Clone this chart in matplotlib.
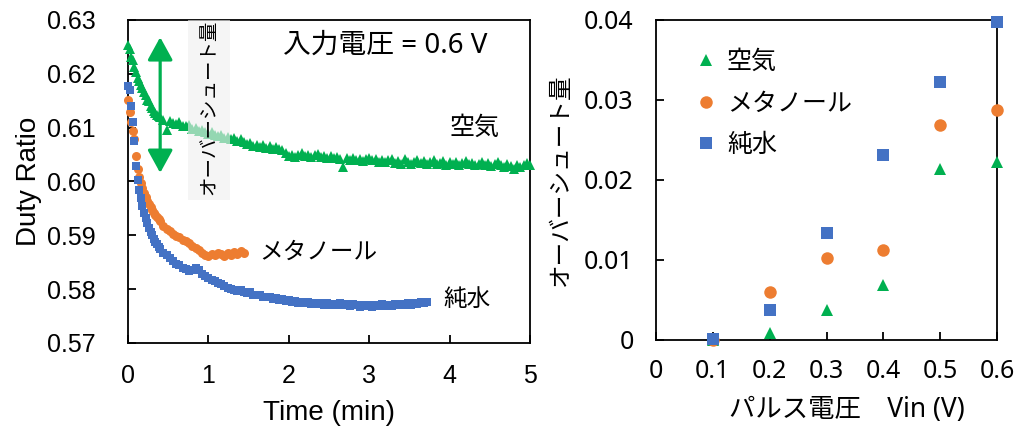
import numpy as np
import matplotlib
matplotlib.use("Agg")
import matplotlib.pyplot as plt
from matplotlib.patches import Rectangle

plt.rcParams['font.family'] = ['Liberation Sans', 'Noto Sans CJK JP']
JP = ['Noto Sans CJK JP', 'DejaVu Sans']
JP_LATIN = ['Noto Sans', 'Noto Sans CJK JP']

GREEN = '#00B050'
ORANGE = '#ED7D31'
BLUE = '#4472C4'

# --- left panel: duty ratio vs time (Vin = 0.6 V) ---
# first 0.4 min sampled every 0.02 min, afterwards every 0.04 min
FINE_STEP = 0.02
COARSE_STEP = 0.04
COARSE_START = 0.40

air_fine = [0.6254, 0.6246, 0.6232, 0.6225, 0.6212, 0.6203, 0.6193, 0.6187, 0.6179, 0.6174,
            0.6166, 0.6160, 0.6152, 0.6149, 0.6141, 0.6137, 0.6131, 0.6128, 0.6124, 0.6122]
air_coarse = [0.6119, 0.6114, 0.6096, 0.6112, 0.6109, 0.6107, 0.6110, 0.6104, 0.6103, 0.6105,
              0.6098, 0.6100, 0.6094, 0.6096, 0.6092, 0.6089, 0.6092, 0.6086, 0.6084, 0.6087,
              0.6081, 0.6083, 0.6078, 0.6080, 0.6076, 0.6078, 0.6073, 0.6070, 0.6072, 0.6066,
              0.6068, 0.6064, 0.6067, 0.6063, 0.6066, 0.6061, 0.6064, 0.6060, 0.6058, 0.6053,
              0.6048, 0.6050, 0.6046, 0.6049, 0.6052, 0.6047, 0.6050, 0.6045, 0.6049, 0.6051,
              0.6046, 0.6048, 0.6044, 0.6047, 0.6043, 0.6046, 0.6042, 0.6026, 0.6044, 0.6040,
              0.6043, 0.6039, 0.6042, 0.6038, 0.6041, 0.6044, 0.6039, 0.6042, 0.6037, 0.6040,
              0.6036, 0.6039, 0.6042, 0.6035, 0.6038, 0.6033, 0.6041, 0.6036, 0.6032, 0.6037,
              0.6040, 0.6034, 0.6038, 0.6033, 0.6036, 0.6039, 0.6032, 0.6035, 0.6038, 0.6031,
              0.6036, 0.6033, 0.6037, 0.6031, 0.6034, 0.6038, 0.6032, 0.6035, 0.6030, 0.6033,
              0.6037, 0.6031, 0.6034, 0.6029, 0.6033, 0.6036, 0.6030, 0.6027, 0.6032, 0.6029,
              0.6024, 0.6030, 0.6027, 0.6031, 0.6035, 0.6030]

methanol_fine = [0.6152, 0.6130, 0.6110, 0.6094, 0.6078, 0.6048, 0.6023, 0.6008, 0.5997, 0.5988,
                 0.5979, 0.5971, 0.5964, 0.5958, 0.5952, 0.5947, 0.5942, 0.5938, 0.5934, 0.5930]
methanol_coarse = [0.5926, 0.5917, 0.5912, 0.5908, 0.5903, 0.5899, 0.5897, 0.5892, 0.5889, 0.5885,
                   0.5880, 0.5877, 0.5872, 0.5868, 0.5864, 0.5862, 0.5866, 0.5863, 0.5868, 0.5865,
                   0.5862, 0.5867, 0.5864, 0.5869, 0.5866, 0.5870, 0.5867]

water_fine = [0.6178, 0.6170, 0.6140, 0.6110, 0.6075, 0.6028, 0.6002, 0.5984, 0.5969, 0.5955,
              0.5942, 0.5932, 0.5922, 0.5914, 0.5907, 0.5901, 0.5894, 0.5888, 0.5884, 0.5878]
water_coarse = [0.5874, 0.5868, 0.5863, 0.5857, 0.5853, 0.5847, 0.5844, 0.5840, 0.5837, 0.5834,
                0.5836, 0.5839, 0.5836, 0.5829, 0.5824, 0.5820, 0.5817, 0.5815, 0.5812, 0.5810,
                0.5806, 0.5803, 0.5800, 0.5799, 0.5797, 0.5798, 0.5795, 0.5793, 0.5794, 0.5790,
                0.5789, 0.5790, 0.5786, 0.5785, 0.5786, 0.5782, 0.5783, 0.5780, 0.5781, 0.5778,
                0.5779, 0.5776, 0.5778, 0.5775, 0.5777, 0.5774, 0.5776, 0.5773, 0.5775, 0.5772,
                0.5775, 0.5771, 0.5774, 0.5770, 0.5773, 0.5771, 0.5774, 0.5770, 0.5772, 0.5769,
                0.5773, 0.5770, 0.5767, 0.5771, 0.5768, 0.5770, 0.5767, 0.5771, 0.5769, 0.5772,
                0.5768, 0.5771, 0.5769, 0.5772, 0.5770, 0.5773, 0.5770, 0.5774, 0.5771, 0.5775,
                0.5773, 0.5776, 0.5774, 0.5777]

# --- right panel: overshoot vs pulse voltage ---
vin = [0.1, 0.2, 0.3, 0.4, 0.5, 0.6]
overshoot_air = [0.0, 0.0009, 0.0038, 0.0069, 0.0214, 0.0223]
overshoot_methanol = [0.0, 0.0060, 0.0102, 0.01125, 0.0269, 0.02875]
overshoot_water = [0.0001, 0.0038, 0.0134, 0.0231, 0.0322, 0.0398]


def series(fine, coarse):
    t = np.concatenate([np.arange(len(fine)) * FINE_STEP,
                        COARSE_START + np.arange(len(coarse)) * COARSE_STEP])
    return t, np.array(fine + coarse)


def style_axes(ax):
    for sp in ax.spines.values():
        sp.set_linewidth(1.3)
    ax.tick_params(direction='in', length=6, width=1.3, labelsize=18)


fig = plt.figure(figsize=(10.2, 4.29), dpi=100)
ax1 = fig.add_axes([0.1255, 0.2005, 0.3941, 0.7529])
ax2 = fig.add_axes([0.6431, 0.2075, 0.3344, 0.7459])

t_air, v_air = series(air_fine, air_coarse)
t_met, v_met = series(methanol_fine, methanol_coarse)
t_wat, v_wat = series(water_fine, water_coarse)

ax1.plot(t_air, v_air, '^', color=GREEN, ms=7, mew=0, clip_on=False, zorder=3)
ax1.plot(t_met, v_met, 'o', color=ORANGE, ms=6.5, mew=0, clip_on=False, zorder=3)
ax1.plot(t_wat, v_wat, 's', color=BLUE, ms=6, mew=0, clip_on=False, zorder=3)

ax1.set_xlim(0, 5)
ax1.set_ylim(0.57, 0.63)
ax1.set_xticks(range(6))
ax1.set_yticks(np.arange(0.57, 0.6301, 0.01))
ax1.yaxis.set_major_formatter(plt.FormatStrFormatter('%.2f'))
style_axes(ax1)
ax1.tick_params(axis='y', pad=23)
ax1.tick_params(axis='x', pad=15)
ax1.set_xlabel('Time (min)', fontsize=20, labelpad=9)
ax1.set_ylabel('Duty Ratio', fontsize=20, labelpad=4)

# overshoot arrow and shaded label box
ax1.annotate('', xy=(0.40, 0.6268), xytext=(0.40, 0.6016),
             arrowprops=dict(arrowstyle='<|-|>,head_length=1.0,head_width=0.55',
                             color=GREEN, lw=2.3, mutation_scale=14,
                             shrinkA=0, shrinkB=0), zorder=4)
ax1.add_patch(Rectangle((0.74, 0.5966), 0.53, 0.0334, facecolor='#f0f0f0',
                        edgecolor='none', alpha=0.62, zorder=5))
ax1.text(1.0, 0.6137, 'オーバーシュート量', rotation=90, ha='center', va='center',
         fontsize=14, family=JP, zorder=6)

ax1.text(1.93, 0.6253, '入力電圧 = 0.6 V', fontsize=20, family=JP_LATIN, va='center')
ax1.text(4.0, 0.6100, '空気', fontsize=18, family=JP, va='center')
ax1.text(1.63, 0.5868, 'メタノール', fontsize=17, family=JP, va='center')
ax1.text(3.92, 0.5780, '純水', fontsize=17, family=JP, va='center')

ax2.plot(vin, overshoot_air, '^', color=GREEN, ms=9, mew=0, clip_on=False, label='空気', zorder=3)
ax2.plot(vin, overshoot_methanol, 'o', color=ORANGE, ms=9, mew=0, clip_on=False, label='メタノール', zorder=3)
ax2.plot(vin, overshoot_water, 's', color=BLUE, ms=9, mew=0, clip_on=False, label='純水', zorder=4)

ax2.set_xlim(0, 0.6)
ax2.set_ylim(0, 0.04)
ax2.set_xticks([0.0] + vin)
ax2.set_yticks([0, 0.01, 0.02, 0.03, 0.04])
ax2.set_xticklabels(['0', '0.1', '0.2', '0.3', '0.4', '0.5', '0.6'], family=JP_LATIN)
ax2.set_yticklabels(['0', '0.01', '0.02', '0.03', '0.04'], family=JP_LATIN)
style_axes(ax2)
ax2.tick_params(axis='y', pad=16)
ax2.tick_params(axis='x', pad=14)
ax2.set_xlabel('パルス電圧\u3000Vin (V)', fontsize=19, family=JP_LATIN)
ax2.xaxis.set_label_coords(0.56, -0.175)
ax2.set_ylabel('オーバーシュート量', fontsize=17, family=JP, labelpad=9)

leg = ax2.legend(loc='upper left', bbox_to_anchor=(0.08, 0.94), frameon=False,
                 prop={'family': JP, 'size': 18}, handletextpad=0.35,
                 labelspacing=0.62, handlelength=1.0, borderaxespad=0)

fig.savefig('out.png', dpi=100)
